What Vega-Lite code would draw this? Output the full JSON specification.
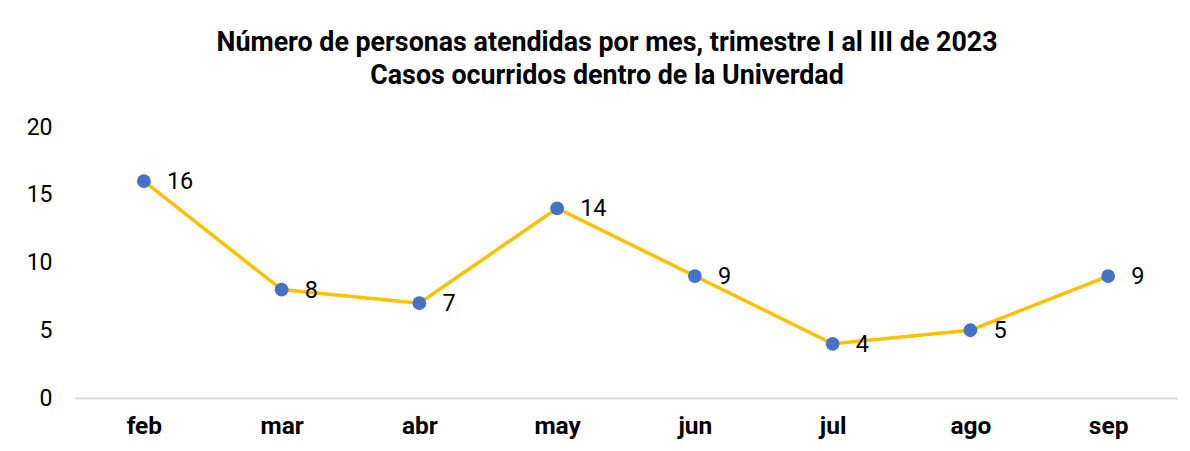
{
  "$schema": "https://vega.github.io/schema/vega-lite/v6.json",
  "autosize": {"type": "none"},
  "width": 1102,
  "height": 271,
  "padding": {"left": 75, "top": 127, "right": 13, "bottom": 53},
  "background": "white",
  "config": {"view": {"stroke": null}, "font": "Roboto"},
  "title": {
    "text": ["Número de personas atendidas por mes, trimestre I al III de 2023", "Casos ocurridos dentro de la Univerdad"],
    "font": "Roboto",
    "fontSize": 26.8,
    "fontWeight": "bold",
    "color": "#000000",
    "anchor": "middle",
    "dx": -19,
    "offset": 26,
    "lineHeight": 33
  },
  "data": {
    "values": [
      {"mes": "feb", "casos": 16},
      {"mes": "mar", "casos": 8},
      {"mes": "abr", "casos": 7},
      {"mes": "may", "casos": 14},
      {"mes": "jun", "casos": 9},
      {"mes": "jul", "casos": 4},
      {"mes": "ago", "casos": 5},
      {"mes": "sep", "casos": 9}
    ]
  },
  "encoding": {
    "x": {
      "field": "mes",
      "type": "ordinal",
      "sort": null,
      "scale": {"type": "point", "padding": 0.5},
      "axis": {
        "title": null,
        "labelAngle": 0,
        "labelFont": "Roboto",
        "labelFontSize": 24.5,
        "labelFontWeight": "bold",
        "labelColor": "#000000",
        "labelPadding": 16,
        "ticks": false,
        "domainColor": "#D9D9D9",
        "domainWidth": 2,
        "grid": false
      }
    },
    "y": {
      "field": "casos",
      "type": "quantitative",
      "scale": {"domain": [0, 20], "nice": false},
      "axis": {
        "title": null,
        "values": [0, 5, 10, 15, 20],
        "labelFont": "Roboto",
        "labelFontSize": 23,
        "labelColor": "#000000",
        "labelPadding": 23,
        "ticks": false,
        "domain": false,
        "grid": false
      }
    }
  },
  "layer": [
    {"mark": {"type": "line", "color": "#FFC000", "strokeWidth": 3.5}},
    {"mark": {"type": "point", "filled": true, "color": "#4472C4", "opacity": 1, "size": 190}},
    {
      "mark": {"type": "text", "align": "left", "baseline": "middle", "dx": 23, "dy": 1, "fontSize": 23.5, "font": "Roboto", "color": "#000000"},
      "encoding": {"text": {"field": "casos", "type": "quantitative"}}
    }
  ]
}
